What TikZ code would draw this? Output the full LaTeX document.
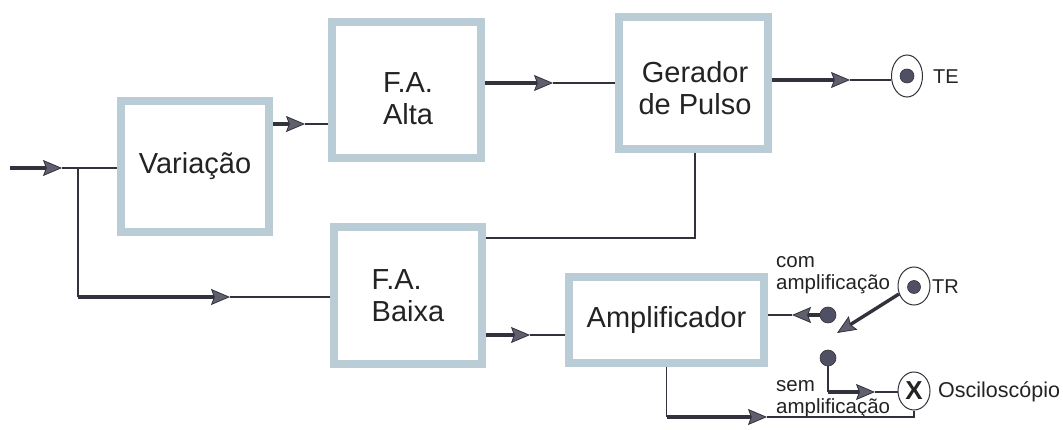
\documentclass[tikz,border=0pt]{standalone}
\usepackage{fontspec}
\setmainfont{Liberation Sans}
\usetikzlibrary{arrows.meta,shapes.geometric}
\definecolor{boxc}{RGB}{186,204,214}
\definecolor{linec}{RGB}{50,50,60}
\definecolor{headc}{RGB}{95,95,110}
\definecolor{dotc}{RGB}{80,80,100}
\definecolor{txtc}{RGB}{35,35,35}
\begin{document}
\begin{tikzpicture}[x=1pt,y=-1pt,
  blk/.style={draw=boxc,line width=8pt,fill=white,inner sep=0pt,outer sep=4pt,
    font=\fontsize{29}{32}\selectfont,text=txtc,align=center},
  btxt/.style={font=\fontsize{29}{32}\selectfont,text=txtc,align=center,inner sep=0pt},
  thk/.style={draw=linec,line width=3.4pt,
    -{Stealth[length=19pt,width=16pt,inset=3pt,fill=headc,line width=0.8pt]}},
  thn/.style={draw=linec,line width=1.2pt},
  ring/.style={ellipse,draw=linec,line width=1pt,fill=white,inner sep=0pt},
  dotn/.style={circle,fill=dotc,draw=linec,line width=0.6pt,inner sep=0pt},
  lbl/.style={font=\fontsize{20}{22}\selectfont,text=txtc,inner sep=0pt,align=left},
  slbl/.style={font=\fontsize{20.5}{22}\selectfont,text=txtc,inner sep=0pt,align=left}
]
\useasboundingbox[fill=white] (0,0) rectangle (1063,430);

% blocks
\node[blk,minimum width=148pt,minimum height=131pt] (var) at (195,166.5) {Variação};
\node[blk,minimum width=149pt,minimum height=136pt] (alta) at (406.5,90) {};
\node[btxt] (altat) at (408,99) {F.A.\\Alta};
\node[blk,minimum width=149pt,minimum height=132pt] (ger) at (693.5,83) {};
\node[btxt] (gert) at (695,88) {Gerador\\de Pulso};
\node[blk,minimum width=148pt,minimum height=137pt,align=left] (baixa) at (408,295.5) {F.A.\\Baixa};
\node[blk,minimum width=195pt,minimum height=86pt] (amp) at (666.5,320) {Amplificador};

% terminals
\node[ring,minimum width=31pt,minimum height=42pt] (te) at (907,76) {};
\node[dotn,minimum size=14pt] (ted) at (907,76) {};
\node[lbl,anchor=west] (tel) at (933,77) {TE};

\node[ring,minimum width=32pt,minimum height=38pt] (tr) at (914,286) {};
\node[dotn,minimum size=13pt] (trd) at (914,287) {};
\node[lbl,anchor=west] (trl) at (932,287) {TR};

\node[ring,minimum width=32pt,minimum height=38pt] (osc) at (914,391)
  {\fontsize{26}{26}\selectfont\bfseries\color{txtc}X};
\node[lbl,anchor=west,font=\fontsize{21.5}{22}\selectfont] (oscl) at (938,392) {Osciloscópio};

\node[dotn,minimum size=16pt] (com) at (828,315) {};
\node[dotn,minimum size=16pt] (sem) at (828,358) {};
\node[slbl,anchor=west] (coml) at (776,275) {com\\amplificação};
\node[slbl,anchor=west] (seml) at (776,399) {sem\\amplificação};

% input and branch
\coordinate (in) at (10,168);
\coordinate (a0) at (62,168);
\coordinate (j) at (78,168);
\coordinate (a1) at (230,297);
\draw[thk] (in) -- (a0);
\draw[thn] (a0) -- (var.west |- a0);
\draw[thn] (j) -- (j |- a1);
\draw[thk] (j |- a1) -- (a1);
\draw[thn] (a1) -- (a1 -| baixa.west);

% Variacao -> F.A. Alta
\coordinate (a2) at (305,124);
\draw[thk] (a2 -| var.east) -- (a2);
\draw[thn] (a2) -- (a2 -| alta.west);

% F.A. Alta -> Gerador
\coordinate (a3) at (553,83);
\draw[thk] (a3 -| alta.east) -- (a3);
\draw[thn] (a3) -- (a3 -| ger.west);

% Gerador -> TE
\coordinate (a4) at (850,80);
\draw[thk] (a4 -| ger.east) -- (a4);
\draw[thn] (a4) -- (a4 -| te.west);

% Gerador -> F.A. Baixa
\coordinate (g1) at (695,238);
\draw[thn] (g1 |- ger.south) -- (g1) -- (g1 -| baixa.east);

% F.A. Baixa -> Amplificador
\coordinate (a5) at (530,335);
\draw[thk] (a5 -| baixa.east) -- (a5);
\draw[thn] (a5) -- (a5 -| amp.west);

% com amplificacao -> Amplificador
\coordinate (a6) at (792,315);
\draw[thk] (com.west) -- (a6);
\draw[thn] (a6) -- (a6 -| amp.east);

% TR -> switch
\coordinate (a7) at (837,333);
\draw[thk] (tr.208) -- (a7);

% sem amplificacao -> Osciloscopio
\coordinate (a8) at (875,392);
\draw[thn] (sem.south) -- (sem.south |- a8);
\draw[thk] (sem.south |- a8) -- (a8);
\draw[thn] (a8) -- (a8 -| osc.west);

% Amplificador -> Osciloscopio
\coordinate (a9) at (767,417);
\draw[thn] (amp.south) -- (amp.south |- a9);
\draw[thk] (amp.south |- a9) -- (a9);
\draw[thn] (a9) -- (a9 -| osc.south) -- (osc.south);
\end{tikzpicture}
\end{document}
